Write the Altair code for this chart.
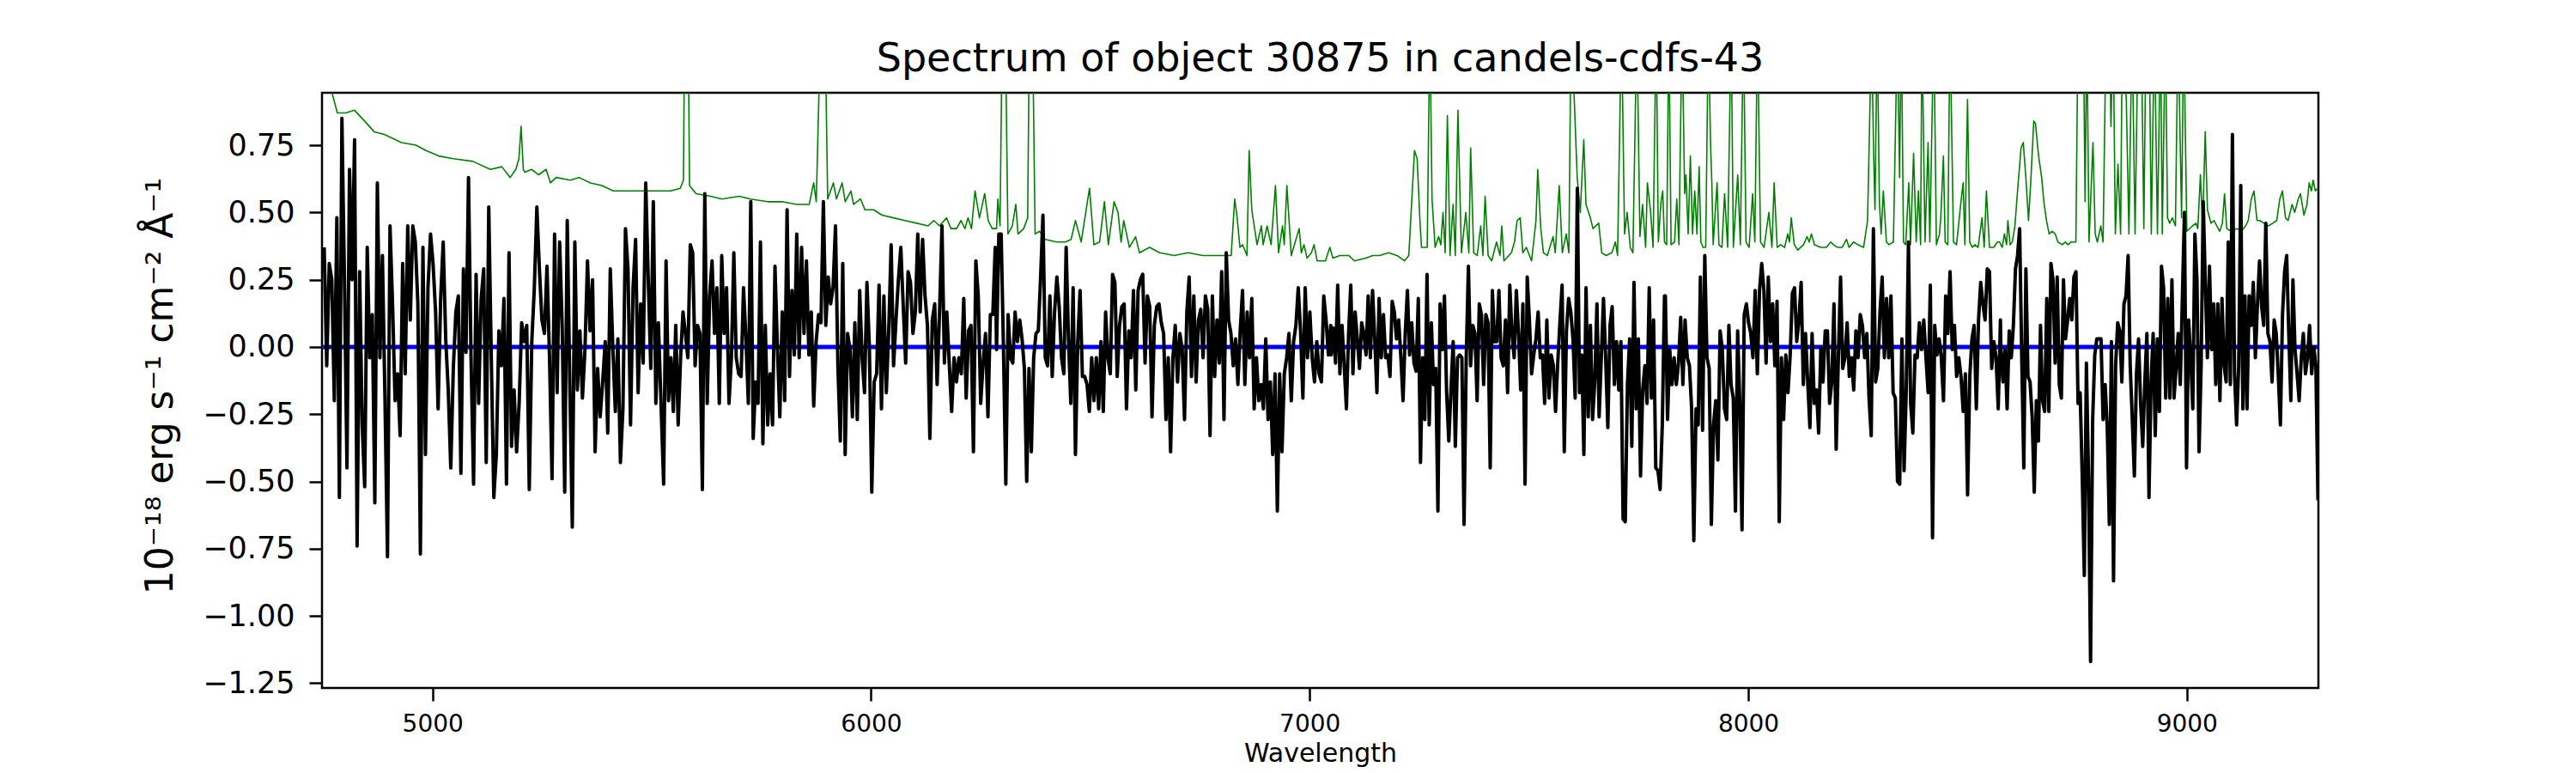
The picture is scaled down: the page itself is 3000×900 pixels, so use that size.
import numpy as np
import pandas as pd
import altair as alt

# ---------------- data ----------------
# Black spectrum: six consecutive stretches (start wavelength, end wavelength, flux values)
SEG1 = [0.37, -0.07, 0.31, 0.25, -0.20, 0.48, -0.56, 0.85, 0.25, -0.45, 0.66, 0.25, 0.77, -0.74, 0.28, -0.29, -0.52, 0.37, -0.04, 0.12,
        -0.58, 0.61, -0.04, 0.34, -0.19, -0.78, 0.45, 0.16, -0.20, -0.10, -0.33, 0.31, -0.10, 0.45, 0.10, 0.45, 0.39, 0.16, -0.77, 0.37,
        -0.40, 0.22, 0.42, 0.31, 0.13, -0.23, 0.18, 0.39, 0.03, -0.16, -0.45, -0.08, 0.13, 0.19, -0.47, 0.29, -0.02, 0.63, -0.04, -0.51,
        0.27, -0.21, 0.18, 0.29, -0.43, 0.52, -0.04, -0.56, -0.40, 0.06, -0.07, 0.18, -0.51, 0.35, -0.37, -0.16, -0.39, -0.21, 0.09, 0.02,
        0.08, -0.53, 0.02, 0.22, 0.52, 0.29, 0.10, 0.05, 0.30, -0.04, -0.49, 0.42, -0.17, 0.39, 0.08, -0.54, 0.47, -0.13, -0.67, 0.39,
        -0.16, 0.06, -0.19, -0.01, 0.32, 0.06, 0.25, -0.39, -0.08, -0.26, -0.13, 0.02, -0.32, 0.29, 0.00, -0.24, 0.03, -0.43, -0.23, 0.44,
        0.29, -0.29, 0.22, 0.40, -0.17, 0.16, -0.06, 0.61, 0.25, -0.08, 0.54, -0.21, 0.09]
SEG2 = [-0.51, 0.32, -0.20, -0.04, -0.24, 0.08, -0.29, -0.04, 0.13, 0.05, -0.04, 0.38, 0.35, -0.07, 0.08, 0.05, -0.53, 0.57, -0.21, 0.19,
        0.32, 0.05, 0.22, -0.21, 0.34, 0.05, 0.22, -0.21, -0.04, 0.35, -0.04, -0.10, -0.11, 0.22, 0.03, -0.21, 0.54, -0.34, -0.13, -0.21,
        0.39, -0.36, 0.08, -0.29, -0.10, -0.29, 0.30, 0.00, -0.26, 0.13, -0.20, 0.51, -0.11, 0.21, -0.03, 0.42, -0.04, 0.37, 0.05, 0.32,
        -0.03, 0.13, -0.22, 0.02, 0.12, 0.09, 0.54, 0.08, 0.26, 0.16, 0.22, 0.45, -0.07, -0.35, 0.31, -0.40, 0.05, -0.01, -0.26, 0.09,
        -0.27, 0.21, -0.04, -0.17, 0.24, 0.00, -0.54, -0.13, -0.10, 0.23, -0.23, 0.19, -0.17, 0.06, 0.38, -0.07, 0.10, 0.25, 0.37, 0.15,
        -0.06, 0.28, 0.24, 0.05, 0.13, 0.42, 0.13, 0.40, 0.19, 0.08, -0.34, 0.10, 0.16, -0.14, 0.13, 0.45, -0.06, 0.13, -0.06, -0.24,
        -0.04, -0.13, -0.04, -0.10, 0.18, -0.19, 0.06, 0.08, -0.39, 0.32, 0.19, -0.21, -0.06, 0.05, -0.26, 0.12, 0.12, 0.37]
SEG3 = [-0.01, 0.42, 0.42, -0.01, -0.51, 0.12, -0.04, -0.06, 0.13, 0.02, 0.10, 0.03, -0.08, -0.50, -0.08, -0.39, -0.04, 0.05, 0.06, 0.26,
        0.49, -0.04, -0.07, 0.19, -0.11, 0.13, 0.26, 0.15, -0.04, -0.10, 0.37, 0.03, -0.21, 0.22, -0.40, 0.02, 0.21, -0.11, -0.11, -0.14,
        -0.24, -0.04, -0.20, -0.04, -0.23, 0.02, -0.24, 0.13, -0.04, -0.10, 0.27, 0.24, -0.11, 0.08, 0.15, 0.16, -0.23, 0.06, -0.04, 0.21,
        -0.16, 0.21, 0.25, 0.27, -0.06, 0.19, 0.15, -0.26, 0.08, 0.15, 0.16, 0.09, 0.05, -0.27, -0.04, -0.39, -0.04, 0.08, -0.13, 0.05,
        -0.01, -0.27, 0.13, 0.26, -0.11, 0.19, -0.13, 0.10, 0.14, -0.04, 0.19, 0.14, -0.33, 0.19, -0.11, 0.10, -0.06, 0.28, -0.27, 0.35,
        0.10, 0.05, -0.07, 0.03, -0.14, 0.06, 0.21, -0.14, 0.13, -0.04, 0.18, -0.23, -0.04, -0.20, -0.14, -0.23, 0.03, -0.27, -0.13, -0.40,
        -0.10, -0.61, -0.10, -0.39, -0.10, -0.04, 0.05, -0.20, 0.02, 0.08, 0.22, 0.06, -0.19, 0.22, -0.04, 0.13, -0.04, -0.13, 0.02, -0.10,
        -0.13, 0.19, 0.10, -0.03, 0.08]
SEG4 = [-0.03, 0.07, -0.06, 0.23, -0.10, 0.08, -0.07, -0.23, 0.05, 0.23, -0.10, 0.13, 0.03, -0.08, 0.09, 0.05, -0.03, 0.19, -0.04, 0.21,
        0.03, -0.17, 0.18, -0.04, 0.12, -0.04, -0.03, -0.11, 0.17, 0.13, 0.03, 0.10, -0.04, -0.20, 0.05, 0.21, -0.03, 0.09, -0.06, -0.09,
        0.18, -0.43, -0.04, -0.27, 0.27, -0.29, 0.09, -0.14, -0.08, -0.61, 0.16, -0.01, 0.19, -0.17, -0.35, -0.16, 0.02, -0.37, -0.04, -0.03,
        -0.04, -0.66, -0.04, 0.30, -0.07, 0.08, 0.05, -0.20, 0.16, 0.12, -0.14, 0.12, 0.09, -0.45, 0.21, 0.02, 0.02, 0.21, -0.04, -0.07,
        0.10, -0.17, 0.23, 0.05, -0.04, 0.21, 0.05, -0.16, 0.16, -0.51, 0.26, 0.10, -0.10, -0.03, 0.03, 0.13, -0.04, -0.03, -0.21, 0.10,
        -0.19, -0.03, -0.07, -0.24, -0.06, 0.09, 0.23, -0.39, 0.06, 0.18, 0.13, 0.03, -0.19, 0.59, -0.17, -0.03, -0.40, 0.22, -0.26, 0.08,
        -0.27, -0.13, 0.16, -0.26, -0.04, 0.18, -0.04, -0.30, 0.08, 0.15, -0.14, 0.02, -0.16, 0.02, -0.64, -0.65, -0.14, 0.03, -0.37, 0.24,
        -0.23, 0.03, -0.48, -0.16, -0.07, -0.21, 0.22, -0.19, 0.10, -0.45, -0.46, -0.53, -0.29, 0.19]
SEG5 = [0.19, -0.27, -0.01, -0.14, -0.04, -0.14, -0.06, 0.11, -0.14, 0.10, -0.04, -0.07, -0.23, -0.72, -0.23, -0.29, 0.26, -0.31, 0.34, -0.04,
        -0.08, -0.66, -0.29, -0.20, -0.42, 0.06, -0.01, -0.23, -0.27, 0.08, -0.14, -0.19, -0.61, 0.06, -0.21, -0.68, 0.12, 0.16, 0.09, 0.05,
        -0.04, 0.21, -0.10, 0.21, 0.31, 0.21, -0.06, 0.26, 0.02, 0.16, -0.07, 0.17, -0.65, -0.04, -0.27, -0.03, -0.17, -0.03, 0.20, 0.22,
        0.02, 0.10, 0.24, -0.14, 0.05, -0.13, -0.30, 0.05, -0.21, -0.16, -0.32, 0.00, -0.13, 0.06, 0.06, -0.21, -0.13, 0.16, -0.38, -0.04,
        0.26, -0.08, -0.04, 0.09, -0.11, -0.04, -0.16, 0.06, -0.04, 0.12, 0.08, -0.04, 0.05, -0.19, -0.33, 0.44, -0.13, -0.08, 0.13, 0.26,
        -0.04, 0.18, -0.04, 0.19, -0.17, -0.19, -0.50, -0.51, 0.03, -0.46, -0.16, 0.39, -0.21, -0.32, -0.03, -0.04, 0.09, -0.01, 0.10, -0.04,
        -0.17, 0.23, -0.71, 0.08, -0.03, 0.03, -0.04, -0.20, 0.19, 0.05, 0.28, -0.01, 0.08, -0.11, -0.04, -0.11, -0.24, -0.10, -0.55, -0.11,
        0.03, 0.08, -0.23, 0.10, 0.24, 0.16, 0.10, 0.29, 0.28, -0.08, 0.02, -0.04, -0.23, 0.10]
SEG6 = [0.00, -0.13, -0.01, -0.23, 0.06, -0.04, 0.08, 0.29, 0.34, 0.44, -0.04, -0.45, 0.29, -0.11, -0.13, -0.26, -0.54, -0.20, -0.35, 0.08,
        -0.20, -0.24, 0.18, -0.24, 0.31, 0.25, -0.06, 0.26, -0.14, -0.19, 0.25, 0.03, 0.10, 0.18, 0.10, 0.26, 0.28, -0.21, -0.17, -0.48,
        -0.85, -0.06, -0.48, -1.17, -0.27, -0.03, 0.03, 0.03, 0.03, -0.27, -0.14, -0.30, -0.66, 0.02, -0.87, -0.07, 0.09, 0.06, -0.13, 0.16,
        0.19, 0.34, -0.07, -0.27, -0.48, -0.10, 0.03, -0.21, -0.37, -0.13, 0.05, -0.56, -0.13, 0.05, -0.33, 0.03, -0.24, 0.30, 0.22, -0.19,
        0.18, -0.19, 0.25, -0.19, -0.08, 0.05, -0.14, 0.18, 0.50, -0.45, 0.10, -0.04, -0.23, 0.42, 0.25, -0.39, -0.07, 0.54, 0.24, -0.04,
        0.30, -0.01, 0.16, -0.14, 0.16, -0.20, 0.18, -0.07, -0.13, 0.39, -0.14, 0.79, -0.10, -0.29, -0.07, 0.60, -0.23, 0.19, -0.23, 0.19,
        0.08, 0.24, -0.04, 0.16, 0.32, 0.15, 0.08, 0.46, 0.05, 0.02, -0.13, 0.10, 0.05, -0.11, -0.29, 0.12, 0.28, 0.34, 0.05, -0.20,
        0.25, -0.01, -0.10, -0.20, -0.04, 0.05, -0.10, -0.04, 0.08, -0.10, 0.00, -0.07, -0.57]
BLACK_SEGMENTS = [(4753, 5515, SEG1), (5527, 6283, SEG2), (6286, 7048, SEG3),
                  (7049, 7809, SEG4), (7811, 8575, SEG5), (8576, 9299, SEG6)]

# Green curve (wavelength, value); spikes leave the frame
GREEN_1 = [(4752, 1.05), (4770, 0.95), (4783, 0.87), (4802, 0.87), (4822, 0.88), (4845, 0.84), (4867, 0.80), (4890, 0.79),
           (4916, 0.77), (4929, 0.76), (4962, 0.75), (4985, 0.73), (5014, 0.71), (5047, 0.70), (5092, 0.69), (5132, 0.66),
           (5158, 0.67), (5177, 0.63), (5190, 0.66), (5197, 0.70), (5202, 0.82), (5207, 0.66), (5210, 0.65), (5226, 0.66),
           (5242, 0.64), (5259, 0.66), (5269, 0.61), (5282, 0.63), (5314, 0.62), (5334, 0.63), (5360, 0.61), (5386, 0.60),
           (5412, 0.58), (5445, 0.58), (5484, 0.58), (5523, 0.58)]
GREEN_2 = [(5543, 0.58), (5565, 0.59), (5572, 0.62), (5575, 1.2), (5583, 1.2), (5586, 0.60), (5601, 0.57), (5634, 0.56),
           (5660, 0.55), (5699, 0.56), (5725, 0.55), (5764, 0.54), (5797, 0.54), (5830, 0.53), (5859, 0.53), (5869, 0.61),
           (5875, 0.54), (5885, 1.2), (5895, 1.2), (5901, 0.55), (5914, 0.61), (5921, 0.55), (5934, 0.61), (5941, 0.54),
           (5954, 0.58), (5960, 0.53), (5976, 0.55), (5986, 0.51), (6006, 0.51), (6025, 0.49), (6051, 0.48), (6077, 0.47),
           (6104, 0.46), (6130, 0.45), (6143, 0.47), (6156, 0.45), (6172, 0.48), (6182, 0.44), (6195, 0.44), (6205, 0.47),
           (6214, 0.44), (6221, 0.48), (6229, 0.44), (6237, 0.58), (6247, 0.48), (6259, 0.57), (6267, 0.47), (6276, 0.44)]
GREEN_3 = [(6286, 0.44), (6289, 0.55), (6294, 0.45), (6299, 1.2), (6306, 1.2), (6312, 0.42), (6322, 0.45), (6330, 0.53),
           (6335, 0.42), (6348, 0.44), (6357, 0.48), (6361, 1.2), (6368, 1.2), (6374, 0.42), (6384, 0.43), (6397, 0.40),
           (6423, 0.39), (6443, 0.39), (6456, 0.40), (6466, 0.47), (6479, 0.39), (6498, 0.59), (6508, 0.38), (6521, 0.39),
           (6532, 0.54), (6541, 0.38), (6554, 0.54), (6563, 0.50), (6570, 0.39), (6576, 0.47), (6589, 0.37), (6603, 0.41),
           (6612, 0.35), (6635, 0.37), (6658, 0.35), (6691, 0.34), (6723, 0.35), (6756, 0.34), (6788, 0.34), (6821, 0.34),
           (6829, 0.55), (6834, 0.49), (6841, 0.37), (6847, 0.38), (6857, 0.34), (6862, 0.73), (6868, 0.51), (6880, 0.38),
           (6890, 0.45), (6894, 0.38), (6903, 0.45), (6912, 0.38), (6922, 0.60), (6929, 0.35), (6938, 0.45), (6942, 0.38),
           (6948, 0.60), (6958, 0.34), (6976, 0.44), (6981, 0.35), (6987, 0.38), (6994, 0.33), (7004, 0.35), (7010, 0.38),
           (7017, 0.32), (7036, 0.32), (7046, 0.37)]
GREEN_4 = [(7053, 0.33), (7069, 0.34), (7089, 0.34), (7102, 0.32), (7128, 0.33), (7144, 0.34), (7160, 0.34), (7180, 0.35),
           (7199, 0.34), (7216, 0.32), (7226, 0.34), (7239, 0.73), (7245, 0.70), (7252, 0.45), (7255, 0.37), (7268, 0.37),
           (7274, 1.2), (7279, 0.55), (7286, 0.37), (7294, 0.41), (7299, 0.38), (7304, 0.50), (7309, 0.35), (7314, 0.86),
           (7320, 0.34), (7327, 0.53), (7332, 0.34), (7338, 0.88), (7346, 0.35), (7356, 0.50), (7363, 0.35), (7367, 0.74),
           (7374, 0.35), (7382, 0.34), (7390, 0.45), (7395, 0.34), (7400, 0.56), (7407, 0.34), (7415, 0.32), (7426, 0.39),
           (7434, 0.34), (7438, 0.45), (7443, 0.32), (7460, 0.35), (7467, 0.39), (7473, 0.47), (7480, 0.48), (7486, 0.35),
           (7494, 0.37), (7506, 0.32), (7516, 0.47), (7520, 0.66), (7527, 0.44), (7533, 0.35), (7542, 0.34), (7555, 0.41),
           (7560, 0.35), (7569, 0.60), (7576, 0.35), (7585, 0.42), (7591, 0.35), (7596, 1.2), (7604, 0.89), (7610, 0.63),
           (7617, 0.50), (7625, 0.77), (7630, 0.53), (7640, 0.48), (7646, 0.44), (7659, 0.46), (7666, 0.35), (7676, 0.34),
           (7689, 0.35), (7697, 0.39), (7702, 0.34), (7711, 1.2), (7718, 0.42), (7724, 0.50), (7731, 0.37), (7737, 0.35),
           (7746, 1.2), (7753, 0.41), (7759, 0.53), (7766, 0.37), (7770, 0.61), (7777, 0.51), (7783, 0.37), (7790, 1.2),
           (7795, 0.39)]
GREEN_5 = [(7801, 0.54), (7805, 0.58), (7809, 0.39), (7814, 0.38), (7819, 1.2), (7824, 0.38), (7832, 0.39), (7837, 0.55),
           (7842, 0.38), (7849, 1.2), (7855, 0.57), (7858, 0.64), (7863, 0.42), (7868, 0.71), (7873, 0.42), (7878, 0.58),
           (7883, 0.42), (7888, 0.67), (7892, 0.39), (7897, 0.37), (7903, 0.37), (7909, 1.2), (7914, 0.76), (7917, 0.61),
           (7920, 0.38), (7929, 0.61), (7933, 0.38), (7940, 0.37), (7946, 0.57), (7953, 0.37), (7961, 1.2), (7966, 0.37),
           (7976, 0.64), (7982, 0.38), (7989, 1.2), (7995, 0.39), (8002, 0.37), (8010, 0.57), (8015, 0.39), (8021, 1.2),
           (8028, 0.39), (8036, 0.37), (8047, 0.50), (8054, 0.37), (8059, 0.61), (8066, 0.37), (8074, 0.38), (8083, 0.37),
           (8090, 0.42), (8094, 0.39), (8098, 0.48), (8105, 0.38), (8113, 0.36), (8126, 0.38), (8134, 0.41), (8139, 0.39),
           (8144, 0.42), (8151, 0.38), (8165, 0.37), (8178, 0.37), (8188, 0.39), (8194, 0.38), (8204, 0.37), (8214, 0.37),
           (8224, 0.40), (8230, 0.37), (8240, 0.39), (8250, 0.38), (8263, 0.37), (8272, 0.47), (8276, 0.77), (8281, 1.2),
           (8286, 0.71), (8289, 0.51), (8294, 1.2), (8299, 0.54), (8303, 0.42), (8308, 0.58), (8315, 0.39), (8321, 0.38),
           (8331, 0.39), (8340, 1.2), (8345, 0.63), (8349, 1.2), (8354, 0.39), (8359, 0.38), (8366, 0.61), (8370, 0.38),
           (8377, 0.72), (8383, 0.39), (8388, 0.58), (8393, 0.38), (8396, 1.2), (8403, 0.39), (8410, 0.76), (8414, 0.39),
           (8423, 1.2), (8429, 0.38), (8436, 0.42), (8439, 0.48), (8445, 0.71), (8449, 0.39), (8455, 0.38), (8460, 1.2),
           (8468, 0.39), (8475, 0.38), (8485, 0.54), (8490, 0.61), (8494, 0.38), (8500, 0.92), (8505, 0.39), (8511, 0.37),
           (8517, 0.38), (8524, 0.37), (8533, 0.48), (8538, 0.37), (8543, 0.58), (8550, 0.37), (8560, 0.37), (8568, 0.39)]
GREEN_6 = [(8573, 0.39), (8579, 0.37), (8584, 0.42), (8589, 0.38), (8592, 0.47), (8597, 0.38), (8602, 0.39), (8608, 0.45),
           (8615, 0.60), (8622, 0.74), (8627, 0.76), (8633, 0.63), (8639, 0.47), (8644, 0.61), (8651, 0.84), (8655, 0.83),
           (8662, 0.71), (8669, 0.63), (8674, 0.54), (8680, 0.47), (8686, 0.42), (8693, 0.43), (8700, 0.42), (8706, 0.39),
           (8716, 0.38), (8723, 0.39), (8729, 0.38), (8736, 0.39), (8747, 0.39), (8752, 1.2), (8759, 1.2), (8764, 1.2),
           (8768, 0.54), (8772, 1.2), (8777, 0.39), (8786, 0.76), (8791, 0.42), (8796, 0.39), (8804, 0.45), (8809, 0.39),
           (8816, 1.2), (8824, 1.2), (8827, 0.82), (8832, 1.2), (8837, 0.42), (8843, 0.68), (8849, 0.42), (8853, 1.2),
           (8862, 0.92), (8868, 0.42), (8875, 1.2), (8882, 0.42), (8889, 1.2), (8896, 1.2), (8902, 0.44), (8907, 1.2),
           (8914, 1.2), (8919, 0.42), (8926, 1.2), (8933, 0.42), (8940, 1.2), (8944, 0.42), (8951, 1.2), (8956, 0.48),
           (8961, 0.46), (8967, 0.48), (8974, 0.45), (8980, 1.2), (8988, 0.48), (8993, 1.2), (9000, 0.43), (9013, 0.45),
           (9021, 0.46), (9025, 0.44), (9031, 0.64), (9036, 0.45), (9042, 0.80), (9047, 0.51), (9055, 0.46), (9062, 0.47),
           (9065, 0.46), (9075, 0.43), (9081, 0.46), (9086, 0.57), (9091, 0.44), (9101, 0.43), (9114, 0.44), (9124, 0.43),
           (9134, 0.45), (9140, 0.47), (9147, 0.55), (9153, 0.58), (9160, 0.47), (9166, 0.47), (9176, 0.46), (9186, 0.45),
           (9196, 0.46), (9205, 0.47), (9212, 0.55), (9218, 0.58), (9225, 0.48), (9231, 0.47), (9240, 0.53), (9246, 0.50),
           (9254, 0.55), (9259, 0.57), (9267, 0.49), (9274, 0.53), (9279, 0.61), (9284, 0.58), (9288, 0.62), (9293, 0.58),
           (9299, 0.59)]

# Blue model line (flat at zero)
BLUE = [(4748, 0.0), (9300, 0.0)]

TITLE = "Spectrum of object 30875 in candels-cdfs-43"
X_TITLE = "Wavelength"
Y_TITLE = "10\u207b\u00b9\u2078 erg s\u207b\u00b9 cm\u207b\u00b2 \u00c5\u207b\u00b9"
X_TICKS = [5000, 6000, 7000, 8000, 9000]
Y_TICKS = [-1.25, -1.0, -0.75, -0.5, -0.25, 0.0, 0.25, 0.5, 0.75]
X_DOMAIN = [4748, 9300]
Y_DOMAIN = [-1.268, 0.945]

# ---------------- build tables ----------------
bw, bf = [], []
for start, end, vals in BLACK_SEGMENTS:
    bw.extend(np.linspace(start, end, len(vals)).tolist())
    bf.extend(vals)
black_df = pd.DataFrame({"wave": bw, "flux": bf})
black_df["i"] = range(len(black_df))

green_pts = GREEN_1 + GREEN_2 + GREEN_3 + GREEN_4 + GREEN_5 + GREEN_6
green_df = pd.DataFrame(green_pts, columns=["wave", "flux"])
green_df["i"] = range(len(green_df))
blue_df = pd.DataFrame(BLUE, columns=["wave", "flux"])
blue_df["i"] = range(len(blue_df))

FONT = "DejaVu Sans"

x_enc = alt.X("wave:Q",
              scale=alt.Scale(domain=X_DOMAIN, nice=False, zero=False),
              axis=alt.Axis(title=X_TITLE, values=X_TICKS, format="d", grid=False,
                            labelFontSize=28, titleFontSize=30, titleFontWeight="normal",
                            labelFont=FONT, titleFont=FONT, labelColor="black", titleColor="black",
                            tickSize=15, tickWidth=2.5, tickColor="black", domain=False,
                            labelPadding=13, labelFlush=False,
                            titleY=85, titleBaseline="alphabetic"))
y_enc = alt.Y("flux:Q",
              scale=alt.Scale(domain=Y_DOMAIN, nice=False, zero=False),
              axis=alt.Axis(title=Y_TITLE, values=Y_TICKS, format=".2f", grid=False,
                            labelFontSize=35, titleFontSize=44, titleFontWeight="normal",
                            labelFont=FONT, titleFont=FONT, labelColor="black", titleColor="black",
                            tickSize=15, tickWidth=2.5, tickColor="black", domain=False,
                            labelPadding=17, labelFlush=False,
                            titleX=-175, titleY=341, titleBaseline="alphabetic", titleAlign="center"))

green = alt.Chart(green_df).mark_line(color="green", strokeWidth=1.6, clip=True, strokeJoin="round").encode(
    x=x_enc, y=y_enc, order="i:Q")
blue = alt.Chart(blue_df).mark_line(color="#0000ff", strokeWidth=5, clip=True).encode(
    x=x_enc, y=y_enc, order="i:Q")
black = alt.Chart(black_df).mark_line(color="black", strokeWidth=4, clip=True, strokeJoin="round").encode(
    x=x_enc, y=y_enc, order="i:Q")

chart = alt.layer(green, blue, black).properties(
    width=2325, height=693,
    padding={"left": 367, "top": 100, "right": 290, "bottom": 98},
    autosize=alt.AutoSizeParams(type="none"),
    title=alt.TitleParams(TITLE, fontSize=46, font=FONT, fontWeight="normal", color="black",
                          anchor="middle", offset=24, baseline="alphabetic", dy=45),
).configure(background="white",
            view=alt.ViewConfig(stroke="black", strokeWidth=2.5))

chart.save("out.html", embed_options={"renderer": "svg", "actions": False})
